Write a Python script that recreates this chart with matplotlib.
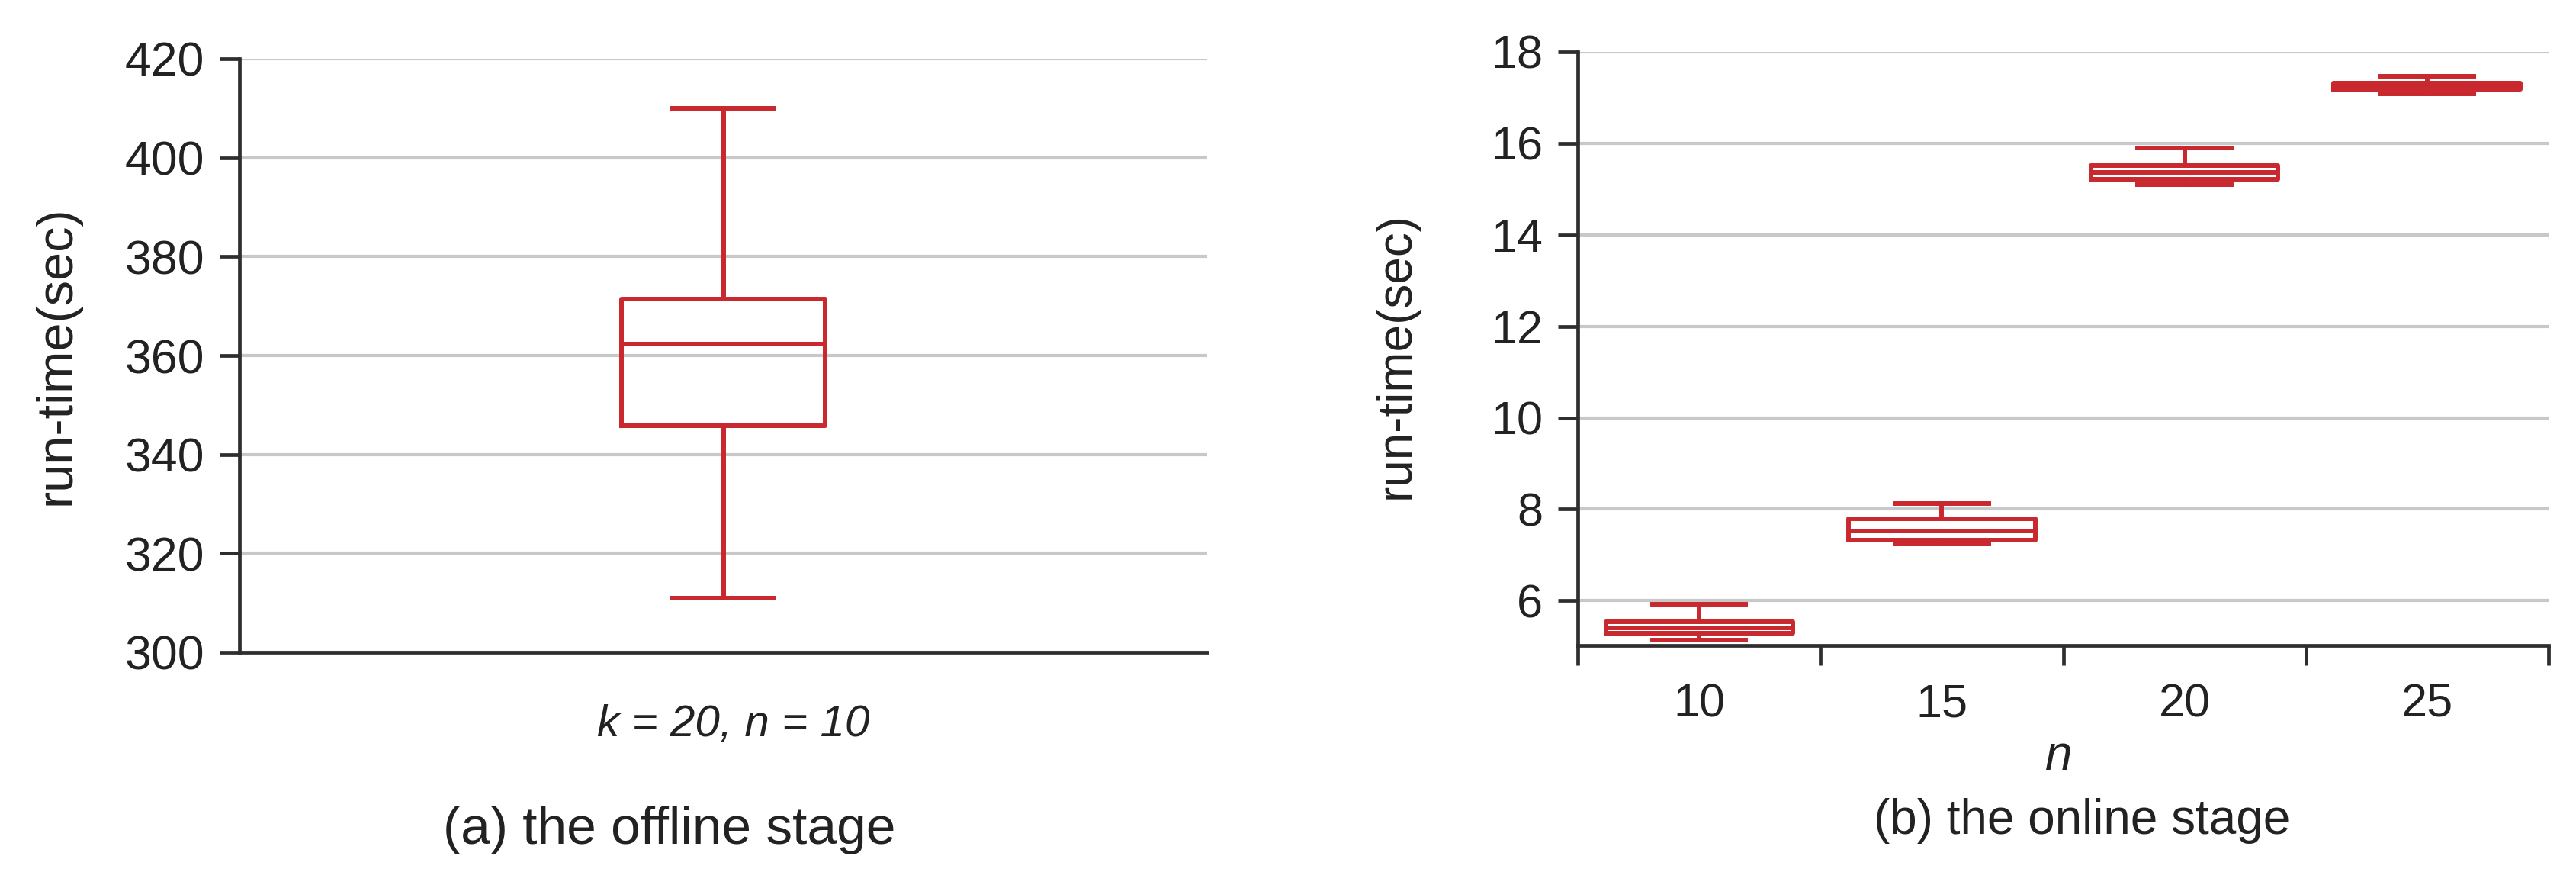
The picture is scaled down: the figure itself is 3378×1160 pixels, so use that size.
import matplotlib
matplotlib.use("Agg")
import matplotlib.pyplot as plt

# ---------------- data ----------------
offline_label = "k = 20, n = 10"
offline_whislo = [311.0]
offline_q1 = [345.8]
offline_med = [362.3]
offline_q3 = [371.4]
offline_whishi = [410.0]

online_n = ["10", "15", "20", "25"]
online_whislo = [5.14, 7.24, 15.10, 17.09]
online_q1 = [5.28, 7.33, 15.21, 17.18]
online_med = [5.40, 7.53, 15.37, 17.25]
online_q3 = [5.53, 7.79, 15.51, 17.31]
online_whishi = [5.92, 8.13, 15.90, 17.46]

left_yticks = [300, 320, 340, 360, 380, 400, 420]
right_yticks = [6, 8, 10, 12, 14, 16, 18]

# ---------------- style ----------------
plt.rcParams['font.family'] = ['Liberation Sans', 'DejaVu Sans']
RED = '#c9282e'
TXT = '#222222'
GRID = '#c8c8c8'
SPINE = '#2e2e2e'
W, H = 3378, 1160
fig = plt.figure(figsize=(W / 100, H / 100), dpi=100)


def px_axes(x0, y0, x1, y1):
    return fig.add_axes([x0 / W, 1 - y1 / H, (x1 - x0) / W, (y1 - y0) / H])


def stats(lo, q1, med, q3, hi):
    return [dict(whislo=a, q1=b, med=c, q3=d, whishi=e, fliers=[])
            for a, b, c, d, e in zip(lo, q1, med, q3, hi)]


lw = 4.3
props = dict(
    boxprops=dict(color=RED, linewidth=lw),
    medianprops=dict(color=RED, linewidth=lw),
    whiskerprops=dict(color=RED, linewidth=lw),
    capprops=dict(color=RED, linewidth=lw),
)


def style_axes(ax, tickfs):
    for s in ['top', 'right']:
        ax.spines[s].set_visible(False)
    for s in ['left', 'bottom']:
        ax.spines[s].set_color(SPINE)
        ax.spines[s].set_linewidth(3.4)
    ax.set_axisbelow(True)
    ax.yaxis.grid(True, color=GRID, linewidth=3.0)
    ax.tick_params(axis='y', direction='out', length=19, width=3.4,
                   color=SPINE, labelsize=tickfs, labelcolor=TXT, pad=14)


# ---------------- left: offline ----------------
axl = px_axes(314, 77, 1583, 855)
axl.bxp(stats(offline_whislo, offline_q1, offline_med, offline_q3, offline_whishi),
        positions=[1], widths=[0.21], showfliers=False, manage_ticks=False, **props)
axl.set_xlim(0.5, 1.5)
axl.set_ylim(300, 420)
axl.set_yticks(left_yticks)
style_axes(axl, 45)
axl.set_xticks([])
fig.text(962 / W, 1 - 950 / H, offline_label, ha='center', va='center',
         fontsize=42, style='italic', color=TXT)
fig.text(878 / W, 1 - 1088 / H, "(a) the offline stage", ha='center', va='center',
         fontsize=50, color=TXT)
fig.text(75 / W, 1 - 466 / H, "run-time(sec)", ha='center', va='center',
         rotation=90, fontsize=48, color=TXT)

# ---------------- right: online ----------------
axr = px_axes(2069, 68, 3342, 846)
pos = list(range(1, len(online_n) + 1))
axr.bxp(stats(online_whislo, online_q1, online_med, online_q3, online_whishi),
        positions=pos, widths=[0.77] * len(pos), showfliers=False,
        manage_ticks=False, **props)
axr.set_xlim(0.5, len(pos) + 0.5)
axr.set_ylim(5.02, 18)
axr.set_yticks(right_yticks)
style_axes(axr, 44)
axr.set_xticks([p - 0.5 for p in pos] + [pos[-1] + 0.5])
axr.set_xticklabels([])
axr.set_xticks(pos, minor=True)
axr.set_xticklabels(online_n, minor=True)
axr.tick_params(axis='x', which='major', direction='out', length=19, width=3.4, color=SPINE)
axr.tick_params(axis='x', which='minor', length=0, labelsize=44, labelcolor=TXT, pad=36)
fig.text(2700 / W, 1 - 992 / H, "n", ha='center', va='center',
         fontsize=46, style='italic', color=TXT)
fig.text(2730 / W, 1 - 1076 / H, "(b) the online stage", ha='center', va='center',
         fontsize=46, color=TXT)
fig.text(1831 / W, 1 - 466 / H, "run-time(sec)", ha='center', va='center',
         rotation=90, fontsize=46, color=TXT)

fig.savefig("out.png", dpi=100)
